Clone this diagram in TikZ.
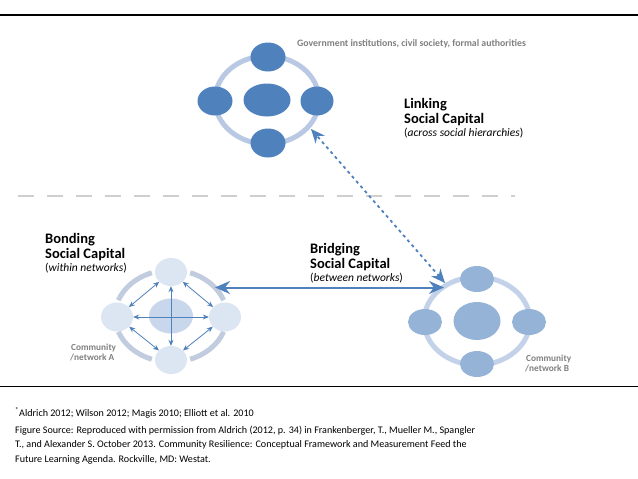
\documentclass[tikz,border=0pt]{standalone}
\usepackage{fontspec}
\setmainfont{Carlito}
\usetikzlibrary{arrows.meta,shapes.geometric}
\definecolor{satdark}{HTML}{4F81BD}
\definecolor{satmid}{HTML}{95B3D7}
\definecolor{satpale}{HTML}{DCE6F2}
\definecolor{hubpale}{HTML}{C9D7EC}
\definecolor{ringtop}{HTML}{B9C9E3}
\definecolor{ringb}{HTML}{C3D2E9}
\definecolor{ringa}{HTML}{C2CCDF}
\definecolor{arrowblue}{HTML}{4F81BD}
\definecolor{labelgray}{HTML}{808080}
\definecolor{sepgray}{HTML}{CFCFCF}
\tikzset{
  sat/.style={ellipse, inner sep=0pt, minimum width=35pt, minimum height=29pt},
  hub/.style={ellipse, inner sep=0pt, minimum width=47pt, minimum height=34pt},
  ringline/.style={line width=5pt},
  headtxt/.style={font=\fontsize{14.5}{16}\selectfont\bfseries, anchor=base west, inner sep=0pt},
  subtxt/.style={font=\fontsize{11.5}{13}\selectfont, anchor=base west, inner sep=0pt},
  graytxt/.style={font=\fontsize{9.8}{11}\selectfont\bfseries, text=labelgray, anchor=base west, inner sep=0pt},
  comtxt/.style={font=\fontsize{9.3}{11}\selectfont\bfseries, text=labelgray, anchor=base west, inner sep=0pt},
  fntxt/.style={font=\fontsize{10.1}{12}\selectfont, anchor=base west, inner sep=0pt},
  smallarrow/.style={draw=arrowblue, line width=0.8pt, {Stealth[length=6pt,width=5pt]}-{Stealth[length=6pt,width=5pt]}},
  bigarrow/.style={draw=arrowblue, line width=2pt, {Stealth[length=15pt,width=13pt]}-{Stealth[length=15pt,width=13pt]}},
  dasharrow/.style={draw=arrowblue, line width=1.8pt, dash pattern=on 3pt off 3.5pt, {Stealth[length=14pt,width=12pt]}-{Stealth[length=14pt,width=12pt]}},
}
\begin{document}
\begin{tikzpicture}[x=1pt,y=-1pt]
\useasboundingbox (0,0) rectangle (638,479);
\fill[white] (0,0) rectangle (638,479);
% frame lines
\draw[line width=1.3pt] (0,15) -- (638,15);
\draw[line width=1.3pt] (0,386.5) -- (638,386.5);
% separator
\draw[sepgray, line width=1.2pt, dash pattern=on 16pt off 13pt] (18,196) -- (515,196);

% top network
\coordinate (tc) at (267,100);
\draw[ringtop, ringline] (tc) ellipse [x radius=52, y radius=44];
\node[hub, fill=satdark, minimum width=47pt, minimum height=33pt] (thub) at (tc) {};
\node[sat, fill=satdark] (tT) at (268,57) {};
\node[sat, fill=satdark] (tB) at (268,143) {};
\node[sat, fill=satdark] (tL) at (215,101) {};
\node[sat, fill=satdark, minimum width=33pt] (tR) at (317,101) {};
\node[graytxt] (govt) at (297,46) {Government institutions, civil society, formal authorities};

% linking text
\node[headtxt] (lk1) at (404,108) {Linking};
\node[headtxt] (lk2) at (404,123) {Social Capital};
\node[subtxt] (lk3) at (404,136) {(\textit{across social hierarchies})};

% network A
\coordinate (ac) at (171,316);
\foreach \a in {20,110,200,290}{
  \draw[ringa, ringline] (ac) ++(\a:56 and 46) arc[start angle=\a, end angle=\a+50, x radius=56, y radius=46];
}
\node[hub, fill=hubpale, minimum width=44pt, minimum height=35pt] (ahub) at (ac) {};
\node[sat, fill=satpale, minimum width=32pt, minimum height=28pt] (aT) at (171,272) {};
\node[sat, fill=satpale, minimum width=32pt, minimum height=28pt] (aB) at (171,360) {};
\node[sat, fill=satpale, minimum width=32pt, minimum height=29pt] (aL) at (117,317) {};
\node[sat, fill=satpale, minimum width=32pt, minimum height=29pt] (aR) at (225,317) {};
\draw[smallarrow] (aT) -- (aB);
\draw[smallarrow] (aL) -- (aR);
\draw[smallarrow] (aT) -- (aL);
\draw[smallarrow] (aT) -- (aR);
\draw[smallarrow] (aB) -- (aL);
\draw[smallarrow] (aB) -- (aR);
\node[comtxt] (comA1) at (71,350) {Community};
\node[comtxt] (comA2) at (70,360) {/network A};

% bonding text
\node[headtxt] (bd1) at (45,243) {Bonding};
\node[headtxt] (bd2) at (45,258) {Social Capital};
\node[subtxt] (bd3) at (45,271) {(\textit{within networks})};

% network B
\coordinate (bc) at (477,321);
\draw[ringb, ringline] (bc) ellipse [x radius=53, y radius=44];
\node[hub, fill=satmid, minimum width=47pt, minimum height=38pt] (bhub) at (bc) {};
\node[sat, fill=satmid, minimum width=34pt, minimum height=26pt] (bT) at (477,279) {};
\node[sat, fill=satmid, minimum width=34pt, minimum height=26pt] (bB) at (477,364) {};
\node[sat, fill=satmid, minimum width=34pt, minimum height=26pt] (bL) at (425,322) {};
\node[sat, fill=satmid, minimum width=34pt, minimum height=26pt] (bR) at (529,322) {};
\node[comtxt] (comB1) at (526,361) {Community};
\node[comtxt] (comB2) at (525,371) {/network B};

% bridging text
\node[headtxt] (br1) at (310,253) {Bridging};
\node[headtxt] (br2) at (310,268) {Social Capital};
\node[subtxt] (br3) at (310,281) {(\textit{between networks})};

% connectors
\coordinate (bridgeA) at (215,287.5);
\coordinate (bridgeB) at (444,287.5);
\draw[bigarrow] (bridgeA) -- (bridgeB);
\coordinate (linkB) at (445,283);
\coordinate (linkT) at (311,129);
\draw[dasharrow] (linkB) -- (linkT);

% footnote
\node[fntxt] (fn1) at (15,416) {\textsuperscript{*}Aldrich 2012; Wilson 2012; Magis 2010; Elliott et al. 2010};
\node[fntxt] (fn2) at (15,433) {Figure Source: Reproduced with permission from Aldrich (2012, p. 34) in Frankenberger, T., Mueller M., Spangler};
\node[fntxt] (fn3) at (15,447.5) {T., and Alexander S. October 2013. Community Resilience: Conceptual Framework and Measurement Feed the};
\node[fntxt] (fn4) at (15,462) {Future Learning Agenda. Rockville, MD: Westat.};
\end{tikzpicture}
\end{document}
